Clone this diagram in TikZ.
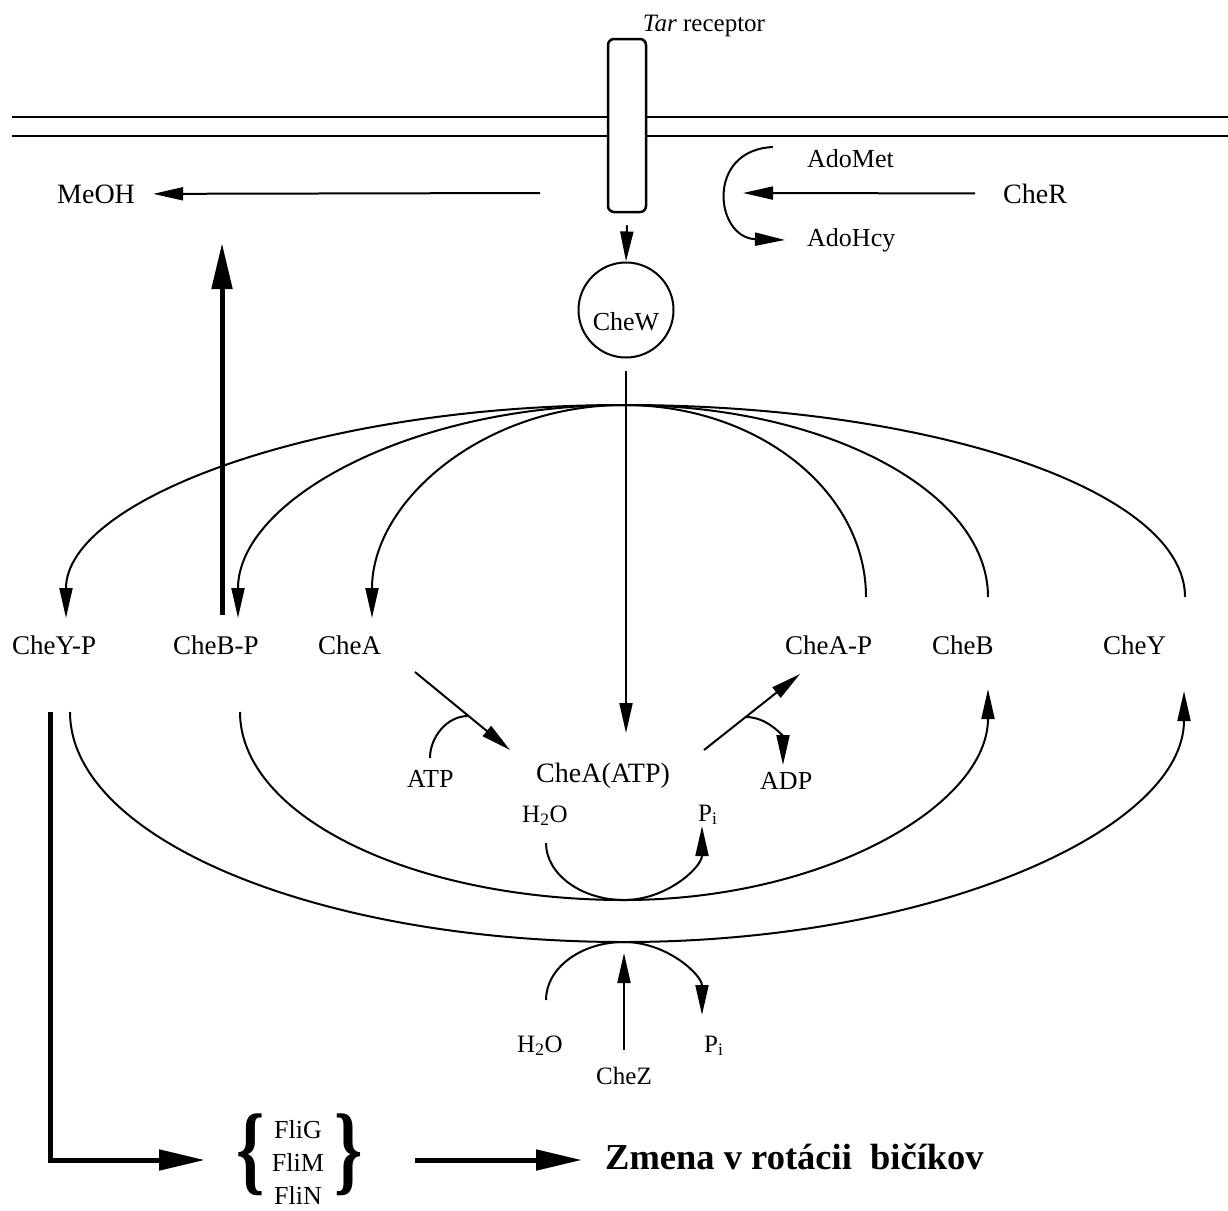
\documentclass[tikz,border=0pt]{standalone}
\usepackage{fontspec}
\setmainfont{Liberation Serif}
\usetikzlibrary{arrows.meta}
\begin{document}
\begin{tikzpicture}[x=1pt,y=-1pt,
  lbl/.style={inner sep=0pt, font=\fontsize{27}{32}\selectfont},
  sml/.style={inner sep=0pt, font=\fontsize{26}{30}\selectfont},
  sub/.style={inner sep=0pt, font=\fontsize{25}{30}\selectfont},
  big/.style={inner sep=0pt, font=\fontsize{28}{32}\selectfont},
  brc/.style={inner sep=0pt, font=\fontsize{36}{36}\selectfont\bfseries},
  ln/.style={line width=2pt},
  arr/.style={line width=2pt, -{Triangle[length=30pt,width=13pt]}},
  tarr/.style={line width=5pt, line join=miter, -{Triangle[length=46pt,width=20pt]}},
]
\useasboundingbox (0,0) rectangle (1228,1210);

% membrane
\draw[line width=2.6pt] (12,117) -- (1228,117);
\draw[line width=2.6pt] (12,136) -- (1228,136);

% receptor
\node[draw, fill=white, line width=2.5pt, rounded corners=6pt, minimum width=38pt,
      minimum height=173pt, inner sep=0pt] (rec) at (627,125.5) {};
\node[sub, anchor=base] (tar) at (704,31) {\textit{Tar} receptor};

% CheW
\node[circle, draw, line width=2pt, minimum size=95pt, inner sep=0pt] (chewc) at (626,310) {};
\node[inner sep=0pt, font=\fontsize{26}{30}\selectfont, anchor=base] (chew) at (626,330) {CheW};

% labels
\node[big, anchor=base west] (meoh) at (57,203) {MeOH};
\node[big, anchor=base west] (cher) at (1003,203) {CheR};
\node[sml, anchor=base west] (adomet) at (807,167) {AdoMet};
\node[sml, anchor=base west] (adohcy) at (807,246) {AdoHcy};

\node[lbl, anchor=base west] (cheyp) at (12,654) {CheY-P};
\node[lbl, anchor=base west] (chebp) at (173,654) {CheB-P};
\node[lbl, anchor=base west] (chea) at (318,654) {CheA};
\node[lbl, anchor=base west] (cheap) at (785,654) {CheA-P};
\node[lbl, anchor=base west] (cheb) at (932,654) {CheB};
\node[lbl, anchor=base west] (chey) at (1103,654) {CheY};
\node[big, anchor=base west] (cheaatp) at (536,782) {CheA(ATP)};

\node[sml, anchor=base west] (atp) at (407,787) {ATP};
\node[sml, anchor=base west] (adp) at (760,789) {ADP};
\node[sub, anchor=base west] (h2oa) at (522,822) {H\textsubscript{2}O};
\node[sub, anchor=base west] (pia) at (698,821) {P\textsubscript{i}};
\node[sub, anchor=base west] (h2ob) at (517,1052) {H\textsubscript{2}O};
\node[sub, anchor=base west] (pib) at (704,1052) {P\textsubscript{i}};
\node[sub, anchor=base] (chez) at (624,1084) {CheZ};

\node[inner sep=0pt, font=\fontsize{26}{33}\selectfont, align=center] (fli) at (298,1162) {FliG\\FliM\\FliN};
\node[brc] (lbr) at (251,1155) {\scalebox{2.0}[2.75]{\{}};
\node[brc] (rbr) at (349,1155) {\scalebox{2.0}[2.75]{\}}};
\node[inner sep=0pt, font=\fontsize{36.5}{40}\selectfont\bfseries, anchor=base west] (zmena) at (605,1169) {Zmena v rotácii\ \ bičíkov};

% coordinates
\coordinate (top) at (624,405);
\coordinate (cheyp-in) at (66,618);
\coordinate (chebp-in) at (238,618);
\coordinate (chea-in) at (372,618);
\coordinate (cheap-out) at (866,597);
\coordinate (cheb-out) at (988,597);
\coordinate (chey-out) at (1185,597);
\coordinate (chebp-out) at (240,712);
\coordinate (m1) at (624,900);
\coordinate (cheb-in) at (988,689);
\coordinate (cheyp-out) at (70,712);
\coordinate (m2) at (624,942);
\coordinate (chey-in) at (1184,691);
\coordinate (h2oa-out) at (546,843);
\coordinate (pia-in) at (702,826);
\coordinate (h2ob-out) at (546,1000);
\coordinate (pib-in) at (702,1015);
\coordinate (chez-out) at (624,1050);
\coordinate (m2-in) at (624,953);
\coordinate (chea-out) at (415,672);
\coordinate (atp-in) at (510,750);
\coordinate (atp-out) at (430,758);
\coordinate (atp-j) at (468,716);
\coordinate (atp-o2) at (704,750);
\coordinate (cheap-in) at (800,674);
\coordinate (adp-j) at (746,717);
\coordinate (adp-in) at (783,765);
\coordinate (cheaatp-in) at (626,733);
\coordinate (meoh-src) at (540,193);
\coordinate (cher-j) at (743,193);
\coordinate (adomet-out) at (773,147);
\coordinate (adohcy-in) at (785,240);
\coordinate (chebp-up) at (222,615);
\coordinate (meoh-up) at (222,243);
\coordinate (cheyp-dn) at (50,712);
\coordinate (fli-in) at (205,1160);
\coordinate (fli-out) at (415,1160);
\coordinate (zmena-in) at (582,1160);

% receptor -> CheW -> CheA(ATP)
\draw[arr] ([yshift=-12pt]rec.south) -- (chewc.north);
\draw[arr] ([yshift=-12pt]chewc.south) -- (cheaatp-in);

% methylation
\draw[arr] (meoh-src) -- ([xshift=18pt]meoh.east);
\draw[arr] ([xshift=-28pt]cher.west) -- (cher-j);
\draw[arr] (adomet-out) .. controls (705,150) and (715,238) .. (adohcy-in);

% upper arcs
\draw[arr] (top) .. controls +(-308,0) and +(0,-118) .. (cheyp-in);
\draw[arr] (top) .. controls +(-213,0) and +(0,-118) .. (chebp-in);
\draw[arr] (top) .. controls +(-139,0) and +(0,-118) .. (chea-in);
\draw[ln] (top) .. controls +(134,0) and +(0,-106) .. (cheap-out);
\draw[ln] (top) .. controls +(201,0) and +(0,-106) .. (cheb-out);
\draw[ln] (top) .. controls +(310,0) and +(0,-106) .. (chey-out);

% lower arcs
\draw[arr] (chebp-out) .. controls +(0,104) and +(-212,0) .. (m1) .. controls +(201,0) and +(0,116) .. (cheb-in);
\draw[arr] (cheyp-out) .. controls +(0,127) and +(-306,0) .. (m2) .. controls +(309,0) and +(0,139) .. (chey-in);

% hydrolysis
\draw[arr] (h2oa-out) .. controls +(0,31) and +(-43,0) .. (m1) .. controls +(43,0) and +(0,41) .. (pia-in);
\draw[arr] (h2ob-out) .. controls +(0,-32) and +(-43,0) .. (m2) .. controls +(43,0) and +(0,-40) .. (pib-in);
\draw[arr] (chez-out) -- (m2-in);

% ATP / ADP
\draw[arr] (chea-out) -- (atp-in);
\draw[ln] (atp-out) .. controls +(0,-21) and +(-21,0) .. (atp-j);
\draw[arr] (atp-o2) -- (cheap-in);
\draw[arr] (adp-j) .. controls +(22,0) and +(0,-28) .. (adp-in);

% thick arrows
\draw[tarr] (chebp-up) -- (meoh-up);
\draw[tarr] (cheyp-dn) |- (fli-in);
\draw[tarr] (fli-out) -- (zmena-in);
\end{tikzpicture}
\end{document}
